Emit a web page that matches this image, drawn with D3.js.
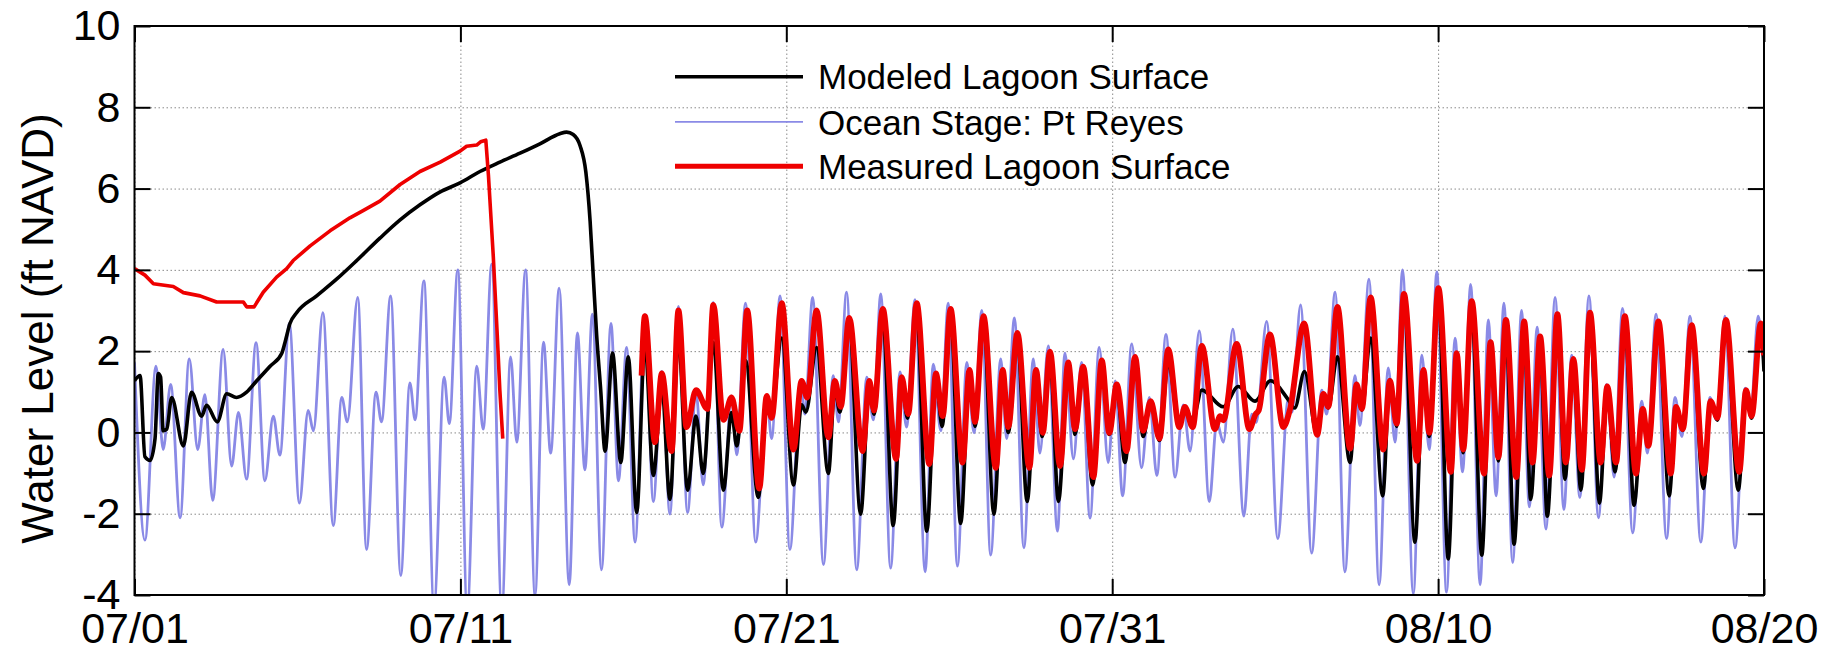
<!DOCTYPE html>
<html>
<head>
<meta charset="utf-8">
<script src="https://cdn.jsdelivr.net/npm/d3@7"></script>
<style>
  html, body { margin: 0; padding: 0; background: #fff; }
  svg { display: block; }
  text { font-family: Arial, "Liberation Sans", sans-serif; fill: #000; }
</style>
</head>
<body>
<svg id="chart" width="1833" height="652"></svg>
<script>
// ---------------- DATA (day since 07/01, water level ft NAVD) ----------------
const xTickDays = [0, 10, 20, 30, 40, 50];
const xTickLabels = ["07/01", "07/11", "07/21", "07/31", "08/10", "08/20"];
const yTickValues = [-4, -2, 0, 2, 4, 6, 8, 10];
const legendLabels = ["Modeled Lagoon Surface", "Ocean Stage: Pt Reyes", "Measured Lagoon Surface"];

const oceanStage = [
  [0.0,1.72],[0.32,-2.65],[0.66,1.63],[0.88,-0.42],[1.11,1.18],[1.40,-2.10],[1.68,1.81],[1.94,-0.42],
  [2.16,0.93],[2.40,-1.67],[2.72,2.04],[2.98,-0.83],[3.19,0.49],[3.44,-1.15],[3.73,2.21],[4.00,-1.19],
  [4.26,0.40],[4.46,-0.56],[4.75,2.68],[5.06,-1.74],[5.33,0.54],[5.49,0.04],[5.78,2.95],[6.10,-2.29],
  [6.36,0.86],[6.53,0.26],[6.85,3.32],[7.12,-2.88],[7.41,0.99],[7.58,0.26],[7.86,3.36],[8.17,-3.52],
  [8.45,1.22],[8.61,0.31],[8.88,3.73],[9.19,-4.3],[9.50,1.36],[9.66,0.22],[9.92,4.0],[10.21,-4.4],
  [10.50,1.63],[10.70,0.08],[10.96,4.14],[11.27,-4.4],[11.54,1.86],[11.73,-0.24],[12.00,4.0],[12.29,-4.0],
  [12.55,2.22],[12.77,-0.51],[13.03,3.55],[13.34,-3.75],[13.59,2.45],[13.82,-0.92],[14.05,2.91],[14.33,-3.38],
  [14.62,2.68],[14.85,-1.19],[15.10,2.09],[15.36,-2.70],[15.66,2.9],[15.92,-1.70],[16.18,1.5],[16.43,-2.01],
  [16.69,3.1],[16.97,-1.97],[17.23,1.0],[17.45,-1.29],[17.76,3.2],[18.02,-2.33],[18.32,0.9],[18.48,-0.55],
  [18.75,3.18],[19.06,-2.70],[19.40,0.86],[19.55,-0.15],[19.81,3.36],[20.11,-2.88],[20.44,1.27],[20.57,0.45],
  [20.81,3.32],[21.14,-3.25],[21.44,1.40],[21.60,0.26],[21.85,3.45],[22.16,-3.38],[22.47,1.36],[22.67,0.31],
  [22.90,3.41],[23.20,-3.34],[23.49,1.49],[23.69,0.13],[23.95,3.27],[24.26,-3.43],[24.51,1.68],[24.74,0.04],
  [24.97,3.18],[25.25,-3.29],[25.54,1.72],[25.76,-0.01],[26.00,3.0],[26.27,-3.02],[26.58,1.81],[26.76,-0.15],
  [27.00,2.82],[27.29,-2.84],[27.58,1.81],[27.78,-0.51],[28.04,2.13],[28.32,-2.43],[28.55,1.95],[28.81,-0.65],
  [29.06,1.72],[29.32,-2.11],[29.60,2.09],[29.88,-0.74],[30.09,1.27],[30.32,-1.56],[30.60,2.18],[30.90,-0.87],
  [31.14,0.86],[31.37,-1.06],[31.65,2.41],[31.93,-1.10],[32.18,0.68],[32.39,-0.46],[32.67,2.50],[32.98,-1.70],
  [33.21,0.26],[33.41,-0.24],[33.70,2.54],[34.04,-2.06],[34.28,0.45],[34.42,0.25],[34.74,2.73],[35.08,-2.61],
  [35.40,0.8],[35.52,0.5],[35.78,3.14],[36.12,-2.97],[36.43,1.04],[36.58,0.45],[36.84,3.45],[37.14,-3.43],
  [37.45,1.40],[37.60,0.17],[37.88,3.77],[38.19,-3.75],[38.47,1.59],[38.68,-0.24],[38.91,4.0],[39.24,-3.97],
  [39.50,1.90],[39.73,-0.42],[39.96,3.95],[40.26,-3.93],[40.52,2.32],[40.75,-0.97],[41.00,3.64],[41.29,-3.75],
  [41.54,2.77],[41.78,-1.56],[42.02,3.18],[42.29,-3.2],[42.56,3.0],[42.80,-1.83],[43.04,2.59],[43.31,-2.38],
  [43.59,3.32],[43.86,-1.9],[44.10,1.90],[44.35,-1.60],[44.63,3.36],[44.92,-2.10],[45.17,1.18],[45.40,-1.10],
  [45.66,3.05],[45.97,-2.47],[46.25,0.77],[46.42,-0.51],[46.69,2.91],[47.01,-2.61],[47.27,0.86],[47.48,-0.10],
  [47.73,2.86],[48.06,-2.70],[48.34,0.86],[48.55,0.31],[48.80,2.86],[49.11,-2.84],[49.42,1.09],[49.59,0.45],
  [49.82,2.86],[50.0,1.6]
];

const modeledLagoon = [
  [0.0,1.27],[0.17,1.40],[0.32,-0.60],[0.48,-0.69],[0.63,-0.15],[0.73,1.45],[0.80,1.36],[0.88,0.04],
  [0.99,0.08],[1.14,0.86],[1.50,-0.33],[1.75,0.99],[2.06,0.40],[2.21,0.67],[2.54,0.26],[2.83,0.95],
  [3.13,0.86],[3.44,0.99],[3.75,1.27],[4.16,1.63],[4.52,1.95],[4.62,2.22],[4.77,2.68],[4.98,2.95],
  [5.59,3.36],[6.20,3.77],[6.82,4.23],[7.53,4.78],[8.15,5.23],[8.76,5.60],[9.38,5.92],[9.99,6.14],
  [10.60,6.42],[11.21,6.65],[11.83,6.87],[12.44,7.10],[13.05,7.35],[13.26,7.39],[13.46,7.33],[13.67,7.06],
  [13.85,6.4],[13.98,5.2],[14.08,3.8],[14.18,2.4],[14.30,1.1],[14.44,-0.46],[14.67,1.95],[14.92,-0.74],
  [15.15,1.86],[15.41,-1.97],[15.66,2.2],[15.92,-1.06],[16.18,1.13],[16.43,-1.65],[16.69,2.3],[16.97,-1.42],
  [17.23,0.40],[17.45,-1.01],[17.76,2.22],[18.07,-1.42],[18.32,0.49],[18.48,-0.33],[18.75,1.77],[19.14,-1.6],
  [19.40,0.75],[19.55,0.5],[19.86,2.32],[20.22,-1.29],[20.47,0.68],[20.60,0.5],[20.93,2.09],[21.29,-1.01],
  [21.49,1.1],[21.64,0.5],[21.93,2.6],[22.28,-2.01],[22.55,1.15],[22.69,0.45],[22.96,2.85],[23.28,-2.29],
  [23.54,1.25],[23.72,0.35],[24.00,3.0],[24.31,-2.43],[24.59,1.35],[24.78,0.15],[25.04,2.9],[25.35,-2.24],
  [25.62,1.45],[25.79,0.15],[26.05,2.7],[26.37,-2.01],[26.64,1.45],[26.81,0.0],[27.09,2.3],[27.39,-1.70],
  [27.66,1.45],[27.85,-0.1],[28.09,1.85],[28.35,-1.70],[28.65,1.65],[28.86,-0.05],[29.11,1.5],[29.40,-1.29],
  [29.68,1.7],[29.91,-0.05],[30.14,1.1],[30.39,-0.74],[30.70,1.75],[30.95,-0.1],[31.18,0.75],[31.45,-0.2],
  [31.72,1.7],[32.06,0.2],[32.23,0.6],[32.47,0.3],[32.75,1.04],[33.41,0.63],[33.87,1.13],[34.38,0.77],
  [34.86,1.27],[35.40,0.81],[35.60,0.6],[35.90,1.5],[36.29,-0.06],[36.48,0.95],[36.63,0.6],[36.91,1.86],
  [37.30,-0.74],[37.50,1.2],[37.66,0.55],[37.93,2.32],[38.30,-1.56],[38.52,1.3],[38.73,0.15],[38.95,3.2],
  [39.29,-2.70],[39.55,1.5],[39.73,-0.1],[40.01,3.4],[40.31,-3.11],[40.57,1.9],[40.77,-0.5],[41.03,3.1],
  [41.34,-3.02],[41.61,2.15],[41.85,-0.7],[42.08,2.65],[42.33,-2.75],[42.64,2.6],[42.84,-1.65],[43.13,2.25],
  [43.35,-2.06],[43.66,2.8],[43.89,-1.15],[44.15,1.7],[44.38,-1.42],[44.66,2.85],[44.95,-1.74],[45.19,1.05],
  [45.43,-0.97],[45.73,2.75],[46.01,-1.79],[46.28,0.5],[46.45,-0.33],[46.76,2.6],[47.09,-1.56],[47.30,0.55],
  [47.51,0.05],[47.78,2.55],[48.14,-1.38],[48.36,0.7],[48.57,0.3],[48.83,2.65],[49.21,-1.42],[49.45,0.95],
  [49.62,0.35],[49.90,2.6],[50.0,1.5]
];

const measuredPreBreach = [
  [0,4.03],[0.32,3.87],[0.58,3.66],[1.19,3.59],[1.50,3.44],[2.01,3.36],[2.52,3.21],[3.34,3.21],
  [3.44,3.09],[3.67,3.09],[3.95,3.45],[4.36,3.82],[4.67,4.03],[4.87,4.23],[5.39,4.59],[6.00,4.96],
  [6.61,5.28],[7.00,5.45],[7.53,5.69],[8.15,6.10],[8.76,6.42],[9.38,6.65],[9.99,6.92],[10.19,7.04],
  [10.50,7.07],[10.62,7.15],[10.78,7.19],[10.86,6.33],[11.01,4.32],[11.13,2.41],[11.21,1.04],[11.30,-0.15]
];

const measuredPostBreach = [
  [15.56,1.40],[15.66,2.86],[15.97,-0.24],[16.18,1.45],[16.48,-0.46],[16.69,3.0],[16.94,0.13],[17.23,1.04],
  [17.58,0.58],[17.76,3.14],[18.07,0.31],[18.32,0.86],[18.56,0.04],[18.80,3.0],[19.17,-1.38],[19.40,0.90],
  [19.55,0.36],[19.86,3.18],[20.22,-0.42],[20.47,1.27],[20.64,0.86],[20.93,3.0],[21.29,-0.12],[21.49,1.27],
  [21.67,0.63],[21.93,2.82],[22.34,-0.46],[22.55,1.27],[22.69,0.54],[22.96,3.04],[23.37,-0.65],[23.54,1.36],
  [23.74,0.45],[24.00,3.18],[24.39,-0.78],[24.59,1.45],[24.80,0.40],[25.04,3.04],[25.41,-0.74],[25.62,1.54],
  [25.79,0.26],[26.05,2.86],[26.43,-0.87],[26.64,1.54],[26.81,0.13],[27.09,2.45],[27.46,-0.87],[27.66,1.54],
  [27.87,-0.01],[28.09,1.99],[28.40,-0.83],[28.65,1.72],[28.86,0.08],[29.11,1.62],[29.42,-1.10],[29.68,1.77],
  [29.91,-0.01],[30.14,1.18],[30.44,-0.46],[30.70,1.86],[30.95,0.04],[31.18,0.77],[31.45,-0.15],[31.72,2.04],
  [32.06,0.13],[32.23,0.63],[32.47,0.13],[32.75,2.13],[33.15,0.08],[33.31,0.40],[33.41,0.30],[33.82,2.18],
  [34.21,0.08],[34.40,0.45],[34.50,0.55],[34.84,2.41],[35.25,0.13],[35.45,0.55],[35.89,2.68],[36.29,-0.06],
  [36.48,0.95],[36.63,0.63],[36.91,3.09],[37.30,-0.4],[37.50,1.18],[37.66,0.58],[37.93,3.32],[38.32,-0.42],
  [38.52,1.27],[38.73,0.22],[38.95,3.41],[39.36,-0.70],[39.55,1.54],[39.73,-0.01],[40.01,3.55],[40.39,-0.97],
  [40.57,1.95],[40.77,-0.42],[41.03,3.23],[41.41,-1.01],[41.61,2.22],[41.85,-0.61],[42.08,2.77],[42.40,-1.10],
  [42.64,2.73],[42.90,-0.74],[43.13,2.36],[43.41,-1.06],[43.66,2.91],[43.92,-0.74],[44.15,1.81],[44.41,-0.92],
  [44.66,2.95],[44.99,-0.74],[45.19,1.13],[45.46,-0.74],[45.73,2.86],[46.07,-1.01],[46.28,0.58],[46.45,-0.33],
  [46.76,2.73],[47.14,-1.01],[47.30,0.63],[47.51,0.08],[47.78,2.64],[48.16,-1.01],[48.36,0.77],[48.57,0.36],
  [48.83,2.77],[49.24,-0.97],[49.45,1.04],[49.62,0.40],[49.90,2.68],[50.0,1.9]
];

// ---------------- CHART ----------------
const svg = d3.select("#chart");
const plotLeft = 134.5, plotRight = 1764, plotTop = 26, plotBottom = 595;
const x = d3.scaleLinear().domain([0, 50]).range([plotLeft, plotRight]);
const y = d3.scaleLinear().domain([-4, 10]).range([plotBottom, plotTop]);

const colors = { model: "#000000", ocean: "#8a8ae6", measured: "#ee0000" };

svg.append("defs").append("clipPath").attr("id", "plotClip")
  .append("rect").attr("x", plotLeft).attr("y", plotTop)
  .attr("width", plotRight - plotLeft).attr("height", plotBottom - plotTop);

// gridlines
const gridStyle = g => {
  g.select(".domain").remove();
  g.selectAll(".tick text").remove();
  g.selectAll(".tick line").attr("stroke", "#8a8a8a").attr("stroke-width", 1).attr("stroke-dasharray", "1.5,2.5");
};
svg.append("g").attr("transform", `translate(0,${plotBottom})`)
  .call(d3.axisBottom(x).tickValues(xTickDays).tickSize(-(plotBottom - plotTop)))
  .call(gridStyle);
svg.append("g").attr("transform", `translate(${plotLeft},0)`)
  .call(d3.axisLeft(y).tickValues(yTickValues).tickSize(-(plotRight - plotLeft)))
  .call(gridStyle);

// lines
const line = d3.line().x(d => x(d[0])).y(d => y(d[1])).curve(d3.curveMonotoneX);
const lineLin = d3.line().x(d => x(d[0])).y(d => y(d[1]));
const plot = svg.append("g").attr("clip-path", "url(#plotClip)");

plot.append("path").datum(oceanStage).attr("d", line)
  .attr("fill", "none").attr("stroke", colors.ocean).attr("stroke-width", 2.8).attr("stroke-linejoin", "round");
plot.append("path").datum(modeledLagoon).attr("d", line)
  .attr("fill", "none").attr("stroke", colors.model).attr("stroke-width", 3.6).attr("stroke-linejoin", "round");
plot.append("path").datum(measuredPreBreach).attr("d", lineLin)
  .attr("fill", "none").attr("stroke", colors.measured).attr("stroke-width", 3.6).attr("stroke-linejoin", "round");
plot.append("path").datum(measuredPostBreach).attr("d", line)
  .attr("fill", "none").attr("stroke", colors.measured).attr("stroke-width", 5.8).attr("stroke-linejoin", "round");

// axes box + inward ticks
const tickLen = 16;
const axisStyle = size => g => {
  g.select(".domain").remove();
  g.selectAll(".tick line").attr("stroke", "#000").attr("stroke-width", 2);
  g.selectAll(".tick text").attr("font-size", size).attr("fill", "#000")
    .style("font-family", 'Arial, "Liberation Sans", sans-serif');
};
svg.append("g").attr("transform", `translate(0,${plotBottom})`)
  .call(d3.axisBottom(x).tickValues(xTickDays).tickFormat((d, i) => xTickLabels[i]).tickSize(-tickLen).tickPadding(17))
  .call(axisStyle(43));
svg.append("g").attr("transform", `translate(0,${plotTop})`)
  .call(d3.axisTop(x).tickValues(xTickDays).tickFormat("").tickSize(-tickLen))
  .call(axisStyle(43));
svg.append("g").attr("transform", `translate(${plotLeft},0)`)
  .call(d3.axisLeft(y).tickValues(yTickValues).tickFormat(d => String(d)).tickSize(-tickLen).tickPadding(14))
  .call(axisStyle(43));
svg.append("g").attr("transform", `translate(${plotRight},0)`)
  .call(d3.axisRight(y).tickValues(yTickValues).tickFormat("").tickSize(-tickLen))
  .call(axisStyle(43));

svg.append("rect").attr("x", plotLeft).attr("y", plotTop)
  .attr("width", plotRight - plotLeft).attr("height", plotBottom - plotTop)
  .attr("fill", "none").attr("stroke", "#000").attr("stroke-width", 2);

// y label
svg.append("text")
  .attr("transform", `translate(53,${(plotTop + plotBottom) / 2 + 18}) rotate(-90)`)
  .attr("text-anchor", "middle")
  .attr("font-size", 44)
  .text("Water Level (ft NAVD)");

// legend
const legendColors = [colors.model, colors.ocean, colors.measured];
const legendWidths = [3.6, 1.6, 5];
const legendY = [76.7, 121.9, 166.3];
const lg = svg.append("g");
legendLabels.forEach((lab, i) => {
  lg.append("line").attr("x1", 675).attr("x2", 803).attr("y1", legendY[i]).attr("y2", legendY[i])
    .attr("stroke", legendColors[i]).attr("stroke-width", legendWidths[i]);
  lg.append("text").attr("x", 818).attr("y", legendY[i]).attr("dy", "0.36em")
    .attr("font-size", 35).text(lab);
});
</script>
</body>
</html>
